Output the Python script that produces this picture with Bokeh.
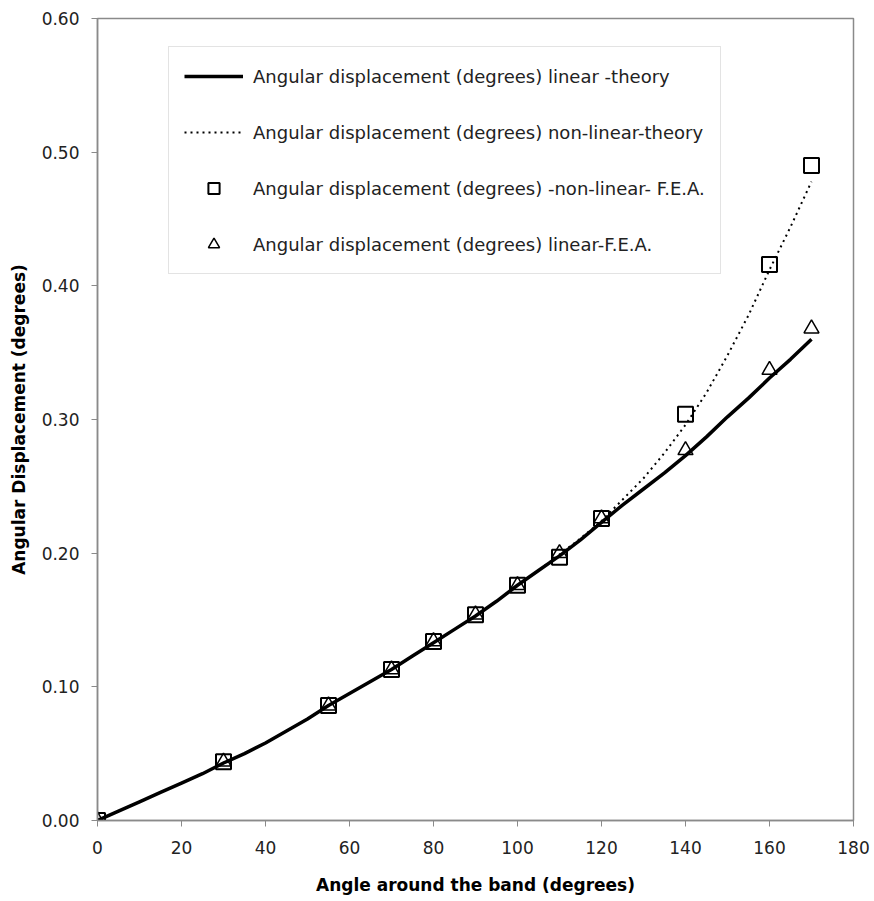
from bokeh.plotting import figure
from bokeh.models import Legend, LegendItem, NumeralTickFormatter, FixedTicker, Range1d
from bokeh.embed import file_html
from bokeh.resources import INLINE

# Data
theory_x = [0, 5, 10, 15, 20, 25, 30, 35, 40, 45, 50, 55, 60, 65, 70, 75, 80, 85,
            90, 95, 100, 105, 110, 115, 120, 125, 130, 135, 140, 145, 150, 155,
            160, 165, 170]
linear_theory = [0.0, 0.007, 0.014, 0.021, 0.028, 0.035, 0.043, 0.050, 0.058,
                 0.067, 0.076, 0.086, 0.095, 0.104, 0.113, 0.123, 0.133, 0.143,
                 0.153, 0.164, 0.176, 0.187, 0.198, 0.210, 0.223, 0.236, 0.248,
                 0.260, 0.273, 0.287, 0.302, 0.316, 0.331, 0.345, 0.360]
nonlinear_theory = [0.0, 0.007, 0.014, 0.021, 0.028, 0.035, 0.043, 0.050, 0.058,
                    0.067, 0.076, 0.086, 0.095, 0.104, 0.113, 0.123, 0.133, 0.143,
                    0.153, 0.164, 0.176, 0.187, 0.199, 0.211, 0.224, 0.240, 0.256,
                    0.275, 0.296, 0.320, 0.348, 0.378, 0.412, 0.444, 0.478]

fea_x = [0, 30, 55, 70, 80, 90, 100, 110, 120, 140, 160, 170]
nonlinear_fea = [0.0, 0.044, 0.086, 0.113, 0.134, 0.154, 0.176, 0.197, 0.226,
                 0.304, 0.416, 0.490]
linear_fea = [0.0, 0.044, 0.086, 0.113, 0.134, 0.154, 0.176, 0.200, 0.226,
              0.277, 0.337, 0.368]

x_ticks = [0, 20, 40, 60, 80, 100, 120, 140, 160, 180]
y_ticks = [0.0, 0.1, 0.2, 0.3, 0.4, 0.5, 0.6]

labels = [
    "Angular displacement (degrees) linear -theory",
    "Angular displacement (degrees) non-linear-theory",
    "Angular displacement (degrees) -non-linear- F.E.A.",
    "Angular displacement (degrees) linear-F.E.A.",
]

FONT = "DejaVu Sans"
TXT = "#222222"
AX = "#8a8a8a"

p = figure(width=874, height=901, output_backend="svg", toolbar_location=None,
           x_range=Range1d(0, 180), y_range=Range1d(0, 0.6),
           min_border_left=97, min_border_right=21, min_border_top=18,
           min_border_bottom=81)
p.background_fill_color = "white"
p.border_fill_color = "white"
p.outline_line_color = AX
p.outline_line_width = 1.5
p.xgrid.visible = False
p.ygrid.visible = False

r_lin = p.line(theory_x, linear_theory, line_color="black", line_width=3.5)
r_nl = p.line(theory_x, nonlinear_theory, line_color="black", line_width=2,
              line_dash="2 4")
r_sq = p.scatter(fea_x, nonlinear_fea, marker="square", size=15,
                 fill_color="white", fill_alpha=0, line_color="black", line_width=2)
r_tri = p.scatter(fea_x, linear_fea, marker="triangle", size=15,
                  fill_color="white", fill_alpha=0, line_color="black", line_width=1.5)

for ax in (p.xaxis[0], p.yaxis[0]):
    ax.axis_line_color = AX
    ax.axis_line_width = 1.5
    ax.major_tick_line_color = AX
    ax.major_tick_out = 6
    ax.major_tick_in = 0
    ax.minor_tick_line_color = None
    ax.major_label_text_font = FONT
    ax.major_label_text_font_size = "17px"
    ax.major_label_text_color = TXT
    ax.axis_label_text_font = FONT
    ax.axis_label_text_font_size = "17px"
    ax.axis_label_text_font_style = "bold"
    ax.axis_label_text_color = "black"

p.xaxis.ticker = FixedTicker(ticks=x_ticks)
p.yaxis.ticker = FixedTicker(ticks=y_ticks)
p.yaxis.formatter = NumeralTickFormatter(format="0.00")
p.xaxis.axis_label = "Angle around the band (degrees)"
p.yaxis.axis_label = "Angular Displacement (degrees)"
p.xaxis.major_label_standoff = 14
p.xaxis.axis_label_standoff = 18
p.yaxis.major_label_standoff = 12
p.yaxis.axis_label_standoff = 10

legend = Legend(items=[
    LegendItem(label=labels[0], renderers=[r_lin]),
    LegendItem(label=labels[1], renderers=[r_nl]),
    LegendItem(label=labels[2], renderers=[r_sq]),
    LegendItem(label=labels[3], renderers=[r_tri]),
], location=(71, 546))
legend.label_text_font = FONT
legend.label_text_font_size = "18px"
legend.label_text_color = TXT
legend.glyph_width = 59
legend.glyph_height = 28
legend.label_height = 28
legend.label_standoff = 10
legend.spacing = 28
legend.padding = 15
legend.margin = 0
legend.border_line_color = "#c8c8c8"
legend.border_line_width = 1.5
legend.background_fill_color = "white"
legend.background_fill_alpha = 1.0
p.add_layout(legend, "center")

open("out.html", "w").write(file_html(p, INLINE))
